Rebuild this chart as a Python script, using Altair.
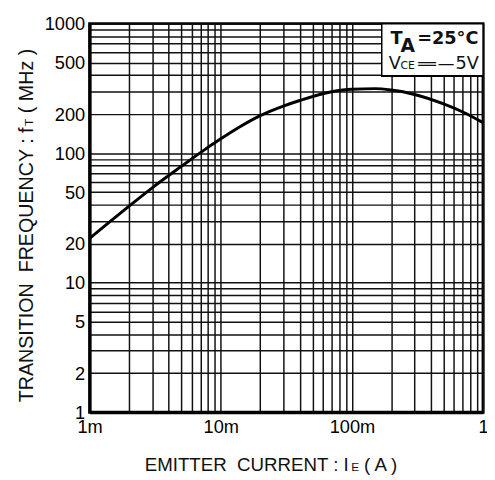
import altair as alt
import pandas as pd

# Curve: emitter current (A) vs transition frequency (MHz)
ie = [0.001, 0.002, 0.003, 0.005, 0.007, 0.01, 0.014, 0.02, 0.03, 0.04,
      0.07, 0.1, 0.15, 0.2, 0.3, 0.5, 0.7, 1.0]
ft = [22, 39, 54, 79, 101, 129, 160, 195, 231, 255,
      298, 312, 315, 307, 284, 240, 208, 172]

# Grid values (all log minor positions) and labelled ticks
x_grid = [round(k * 10 ** e, 6) for e in (-3, -2, -1) for k in range(1, 10)] + [1.0]
y_grid = [k * 10 ** e for e in (0, 1, 2) for k in range(1, 10)] + [1000]
x_label_vals = [0.001, 0.01, 0.1, 1.0]
x_label_text = ["1m", "10m", "100m", "1"]
y_label_vals = [1, 2, 5, 10, 20, 50, 100, 200, 500, 1000]

df = pd.DataFrame({"ie": ie, "ft": ft})

x_expr = " : ".join(
    f"datum.value == {v} ? '{t}'" for v, t in zip(x_label_vals, x_label_text)
) + " : ''"
y_expr = " : ".join(f"datum.value == {v} ? '{v}'" for v in y_label_vals) + " : ''"

W, H = 400, 395
LFONT = "Liberation Sans"

base = alt.Chart(df)

line = base.mark_line(color="black", strokeWidth=3, interpolate="monotone", clip=True).encode(
    x=alt.X("ie:Q",
            scale=alt.Scale(type="log", domain=[0.001, 1], nice=False),
            axis=alt.Axis(values=x_grid, labelExpr=x_expr, title=None,
                          grid=True, ticks=False, tickSize=0, labelOverlap=False,
                          labelFlush=False, labelPadding=6)),
    y=alt.Y("ft:Q",
            scale=alt.Scale(type="log", domain=[1, 1000], nice=False),
            axis=alt.Axis(values=y_grid, labelExpr=y_expr, title=None,
                          grid=True, ticks=False, tickSize=0, labelOverlap=False,
                          labelPadding=5)),
)

# annotation box (top right)
box = base.mark_rect(fill="white", stroke="black", strokeWidth=1.5).encode(
    x=alt.value(297), x2=alt.value(400), y=alt.value(0), y2=alt.value(53)
)

def txt(s, x, y, size, align="left", weight="normal", font="DejaVu Sans", angle=0):
    return alt.Chart(pd.DataFrame({"t": [s]})).mark_text(
        align=align, baseline="alphabetic", fontSize=size, fontWeight=weight,
        font=font, color="#111111", angle=angle
    ).encode(text="t:N", x=alt.value(x), y=alt.value(y))

ann = [
    txt("T", 306, 21, 18, weight="bold"),
    txt("A", 316, 29, 19, weight="bold"),
    txt("=25°C", 333, 21, 18, weight="bold"),
    txt("V", 304, 46, 18),
    txt("CE", 316, 46, 11),
    txt("══", 334, 46, 15),
    txt("—", 354, 46, 17),
    txt("5V", 372, 46, 18),
]

# axis titles with subscripts
titles = [
    txt("EMITTER\u00a0 CURRENT : I", 56, 455, 19, font=LFONT),
    txt("E", 266, 455, 12, font=LFONT),
    txt("( A )", 279, 455, 19, font=LFONT),
    txt("TRANSITION\u00a0 FREQUENCY : f", -58, 385, 20, font=LFONT, angle=270),
    txt("T", -58, 104, 12, font=LFONT, angle=270),
    txt("( MHz )", -58, 91, 20, font=LFONT, angle=270),
]

chart = alt.layer(line, box, *ann, *titles).properties(
    width=W, height=H,
    autosize=alt.AutoSizeParams(type="none"),
    padding={"left": 83, "top": 12, "right": 4, "bottom": 61},
).configure_view(
    stroke="black", strokeWidth=3
).configure_axis(
    gridColor="#111111", gridWidth=1.5, gridOpacity=1,
    domainColor="black", domainWidth=3,
    labelFont=LFONT, labelFontSize=18.5, labelColor="black",
)

chart.save("out.html", embed_options={"renderer": "svg", "actions": False})
